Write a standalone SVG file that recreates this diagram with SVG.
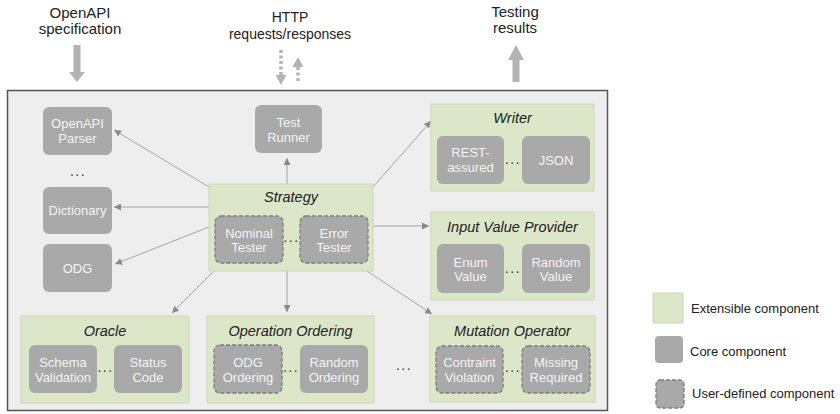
<svg xmlns="http://www.w3.org/2000/svg" width="840" height="414" viewBox="0 0 840 414">
<style>
text{font-family:"Liberation Sans",Arial,sans-serif}
.core{fill:#a9a9a9}
.user{fill:#a9a9a9;stroke:#7c7c7c;stroke-width:1.3;stroke-dasharray:4 2}
.ext{fill:#dce6c9;stroke:#cbd8b5;stroke-width:1}
.nt{font-size:13px;fill:#f4f4f4;text-anchor:middle}
.title{font-size:14.5px;font-style:italic;fill:#222;text-anchor:middle}
.dots{font-size:14px;fill:#333;text-anchor:middle;letter-spacing:1.5px}
.lbl{font-size:15px;fill:#222;text-anchor:middle}
.leg{font-size:13px;fill:#222}
.conn{stroke:#a3a3a3;stroke-width:1;fill:none;marker-end:url(#ah)}
.big{fill:#b3b3b3}
</style>
<defs>
<marker id="ah" viewBox="0 0 10 10" refX="10" refY="5" markerWidth="7" markerHeight="7" markerUnits="userSpaceOnUse" orient="auto">
<path d="M0,0 L10,5 L0,10 z" fill="#8a8a8a"/>
</marker>
</defs>
<g id="io">
<text class="lbl" x="80" y="18">OpenAPI</text>
<text class="lbl" x="80" y="34">specification</text>
<rect class="big" x="73.5" y="45" width="7" height="27"/>
<polygon class="big" points="69,72 85,72 77,82"/>
<text class="lbl" x="290" y="22" style="font-size:14px">HTTP</text>
<text class="lbl" x="290" y="39" style="font-size:14px">requests/responses</text>
<line x1="281" y1="50" x2="281" y2="75" stroke="#b3b3b3" stroke-width="3.5" stroke-dasharray="3 2.5"/>
<polygon class="big" points="275.5,75 286.5,75 281,85"/>
<line x1="298" y1="67" x2="298" y2="83" stroke="#b3b3b3" stroke-width="3.5" stroke-dasharray="3 2.5"/>
<polygon class="big" points="292.5,67 303.5,67 298,57"/>
<text class="lbl" x="515" y="17">Testing</text>
<text class="lbl" x="515" y="33">results</text>
<rect class="big" x="512.5" y="60" width="7" height="22"/>
<polygon class="big" points="508,60 524,60 516,45"/>
</g>
<g id="container">
<rect x="7.5" y="90.5" width="600" height="320" fill="#eeeeee" stroke="#555" stroke-width="1.5"/>
</g>
<g id="connectors">
<path class="conn" d="M209,187 L114,130"/>
<path class="conn" d="M287,184 L287,158"/>
<path class="conn" d="M209,207 L114,207"/>
<path class="conn" d="M209,227 L115,264"/>
<path class="conn" d="M373,187 L431,121"/>
<path class="conn" d="M373,226 L429,226"/>
<path class="conn" d="M367,271 L432,314"/>
<path class="conn" d="M287,271 L287,312"/>
<path class="conn" d="M214,271 L172,313"/>
</g>
<g id="openapi-parser">
<rect class="core" x="43" y="107" width="69" height="48" rx="6"/>
<text class="nt" x="77.5" y="128">OpenAPI</text>
<text class="nt" x="77.5" y="143">Parser</text>
</g>
<g id="parser-dots"><text class="dots" x="78" y="176">...</text></g>
<g id="dictionary">
<rect class="core" x="43" y="187" width="69" height="47" rx="6"/>
<text class="nt" x="77.5" y="215">Dictionary</text>
</g>
<g id="odg">
<rect class="core" x="43" y="244" width="69" height="48" rx="6"/>
<text class="nt" x="77.5" y="273">ODG</text>
</g>
<g id="test-runner">
<rect class="core" x="255" y="105" width="67" height="48" rx="6"/>
<text class="nt" x="288.5" y="127">Test</text>
<text class="nt" x="288.5" y="142">Runner</text>
</g>
<g id="strategy">
<rect class="ext" x="209" y="184" width="164" height="87"/>
<text class="title" x="291" y="202">Strategy</text>
<rect class="user" x="215" y="216" width="68" height="47" rx="6"/>
<text class="nt" x="249" y="238">Nominal</text>
<text class="nt" x="249" y="252">Tester</text>
<text class="dots" x="291.5" y="242">...</text>
<rect class="user" x="300" y="216" width="68" height="47" rx="6"/>
<text class="nt" x="334" y="238">Error</text>
<text class="nt" x="334" y="252">Tester</text>
</g>
<g id="writer">
<rect class="ext" x="431" y="104" width="163" height="87"/>
<text class="title" x="512.5" y="123">Writer</text>
<rect class="core" x="437" y="136" width="67" height="48" rx="6"/>
<text class="nt" x="470.5" y="157">REST-</text>
<text class="nt" x="470.5" y="172">assured</text>
<text class="dots" x="513" y="164">...</text>
<rect class="core" x="522" y="136" width="68" height="48" rx="6"/>
<text class="nt" x="556" y="165">JSON</text>
</g>
<g id="input-value-provider">
<rect class="ext" x="431" y="212" width="163" height="88"/>
<text class="title" x="512.5" y="232">Input Value Provider</text>
<rect class="core" x="437" y="244" width="67" height="49" rx="6"/>
<text class="nt" x="470.5" y="267">Enum</text>
<text class="nt" x="470.5" y="281">Value</text>
<text class="dots" x="513" y="273">...</text>
<rect class="core" x="522" y="244" width="68" height="49" rx="6"/>
<text class="nt" x="556" y="267">Random</text>
<text class="nt" x="556" y="281">Value</text>
</g>
<g id="oracle">
<rect class="ext" x="21" y="316" width="168" height="87"/>
<text class="title" x="105" y="336">Oracle</text>
<rect class="core" x="29" y="345" width="68" height="48" rx="6"/>
<text class="nt" x="63" y="367">Schema</text>
<text class="nt" x="63" y="382">Validation</text>
<text class="dots" x="105.5" y="372">...</text>
<rect class="core" x="114" y="345" width="68" height="48" rx="6"/>
<text class="nt" x="148" y="367">Status</text>
<text class="nt" x="148" y="382">Code</text>
</g>
<g id="operation-ordering">
<rect class="ext" x="207" y="316" width="167" height="87"/>
<text class="title" x="290.5" y="336">Operation Ordering</text>
<rect class="user" x="214" y="345" width="68" height="48" rx="6"/>
<text class="nt" x="248" y="367">ODG</text>
<text class="nt" x="248" y="382">Ordering</text>
<text class="dots" x="291" y="372">...</text>
<rect class="core" x="300" y="345" width="68" height="48" rx="6"/>
<text class="nt" x="334" y="367">Random</text>
<text class="nt" x="334" y="382">Ordering</text>
</g>
<g id="more-dots"><text class="dots" x="404" y="370">...</text></g>
<g id="mutation-operator">
<rect class="ext" x="430" y="316" width="165" height="86"/>
<text class="title" x="512.5" y="336">Mutation Operator</text>
<rect class="user" x="436" y="346" width="67" height="47" rx="6"/>
<text class="nt" x="469.5" y="367">Contraint</text>
<text class="nt" x="469.5" y="382">Violation</text>
<text class="dots" x="513" y="372">...</text>
<rect class="user" x="522" y="346" width="68" height="47" rx="6"/>
<text class="nt" x="556" y="367">Missing</text>
<text class="nt" x="556" y="382">Required</text>
</g>
<g id="legend">
<rect class="ext" x="653" y="293" width="30" height="30" rx="1"/>
<text class="leg" x="691" y="313">Extensible component</text>
<rect class="core" x="655" y="336" width="28" height="27" rx="4"/>
<text class="leg" x="690" y="356">Core component</text>
<rect class="user" x="656" y="380" width="28" height="28" rx="4"/>
<text class="leg" x="692" y="398">User-defined component</text>
</g>
</svg>
